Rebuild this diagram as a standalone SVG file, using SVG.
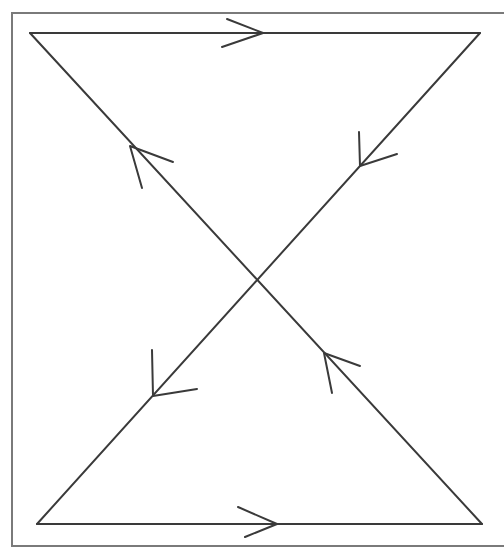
<svg xmlns="http://www.w3.org/2000/svg" width="504" height="548" viewBox="0 0 504 548">
<style>
.frame{fill:none;stroke:#7a7a7a;stroke-width:2}
.ln{fill:none;stroke:#3a3a3a;stroke-width:2;stroke-linecap:round;stroke-linejoin:round}
</style>
<rect width="504" height="548" fill="#ffffff"/>
<path class="frame" d="M506,13 H12 V546 H506"/>
<g id="connectors">
<path id="top" class="ln" d="M30,33 H480"/>
<path id="bottom" class="ln" d="M37,524 H482"/>
<path id="diag1" class="ln" d="M30,33 L482,524"/>
<path id="diag2" class="ln" d="M480,33 L37,524"/>
<path id="a-top" class="ln" d="M227,19 L263,33 L222,47"/>
<path id="a-bottom" class="ln" d="M238,507 L277,524 L245,537"/>
<path id="a-d1-up" class="ln" d="M173,162 L130,146 L142,188"/>
<path id="a-d1-low" class="ln" d="M360,366 L324,353 L332,393"/>
<path id="a-d2-up" class="ln" d="M359,132 L360,166 L397,154"/>
<path id="a-d2-low" class="ln" d="M152,350 L153,396 L197,389"/>
</g>
</svg>
